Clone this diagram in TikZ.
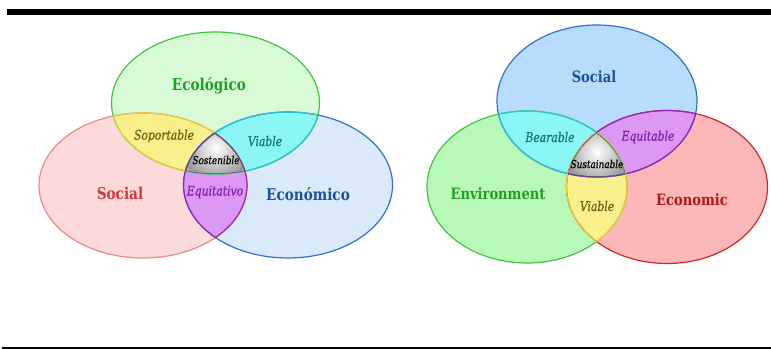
\documentclass[tikz,border=0pt]{standalone}
\usepackage{fontspec}
\usepackage{tikz}
\newfontfamily\vennbold{DejaVu Serif Condensed}[BoldFont={* Bold}, FakeStretch=0.93]
\newfontfamily\vennit{DejaVu Serif Condensed}[ItalicFont={* Italic}, FakeStretch=0.9, FakeBold=0.6]
\usetikzlibrary{calc}
% ellipses, left picture
\def\ecoL{(215.5,103) ellipse (104 and 71)}
\def\socL{(143,185.5) ellipse (104 and 72.5)}
\def\ecnL{(288,185) ellipse (104.5 and 73)}
% ellipses, right picture
\def\socR{(597,101) ellipse (100 and 76)}
\def\envR{(527,187) ellipse (100 and 76)}
\def\ecnR{(667,187) ellipse (100.5 and 76.5)}
\definecolor{gfillL}{HTML}{D8FAD6}
\definecolor{rfillL}{HTML}{FCDADA}
\definecolor{bfillL}{HTML}{DAEAFB}
\definecolor{gfillR}{HTML}{B8F8B8}
\definecolor{rfillR}{HTML}{FCB8B8}
\definecolor{bfillR}{HTML}{B8DCFC}
\definecolor{yfill}{HTML}{F8F08C}
\definecolor{cfill}{HTML}{8AF6F6}
\definecolor{pfill}{HTML}{DC98F4}
\definecolor{gline}{HTML}{3CC83C}
\definecolor{rlineL}{HTML}{E88888}
\definecolor{rlineR}{HTML}{D02828}
\definecolor{bline}{HTML}{2E72D0}
\definecolor{yline}{HTML}{E8CC38}
\definecolor{cline}{HTML}{28C4C8}
\definecolor{pline}{HTML}{9028B8}
\definecolor{kline}{HTML}{5A5A5A}
\definecolor{gtext}{HTML}{1FA01F}
\definecolor{rtextL}{HTML}{D03838}
\definecolor{rtextR}{HTML}{B01818}
\definecolor{btext}{HTML}{1F4FA0}
\definecolor{ytext}{HTML}{6E6010}
\definecolor{ctext}{HTML}{107878}
\definecolor{ptext}{HTML}{8020A8}
\tikzset{
  rim/.style={line width=0.9pt},
  bigL/.style={font=\vennbold\bfseries\fontsize{12.2}{14}\selectfont},
  bigR/.style={font=\vennbold\bfseries\fontsize{11.7}{14}\selectfont},
  small/.style={font=\vennit\itshape\fontsize{10}{12}\selectfont},
  tiny/.style={font=\vennit\itshape\fontsize{8.2}{10}\selectfont},
}
\begin{document}
\begin{tikzpicture}[x=0.75pt,y=-0.75pt]
	%%%%% START %%%%%
	\useasboundingbox (0,0) rectangle (771,349);
	\fill[black] (7,9) rectangle (771,15);
	
	%%%%% LEFT %%%%%
	\fill[gfillL] \ecoL;
	\fill[rfillL] \socL;
	\fill[bfillL] \ecnL;
	\begin{scope} \clip \ecoL; \fill[yfill] \socL; \fill[cfill] \ecnL; \end{scope}
	\begin{scope} \clip \socL; \fill[pfill] \ecnL; \end{scope}
	\begin{scope} \clip \ecoL; \clip \socL; \clip \ecnL;
		\shade[inner color=white, outer color=black!42] (216,148) circle (34);
	\end{scope}
	\draw[rim, gline] \ecoL;
	\draw[rim, rlineL] \socL;
	\draw[rim, bline] \ecnL;
	\begin{scope} \clip \ecoL; \draw[rim, yline] \socL; \draw[rim, cline] \ecnL; \end{scope}
	\begin{scope} \clip \socL; \draw[rim, yline] \ecoL; \draw[rim, pline] \ecnL; \end{scope}
	\begin{scope} \clip \ecnL; \draw[rim, cline] \ecoL; \draw[rim, pline] \socL; \end{scope}
	\begin{scope} \clip \ecoL; \clip \socL; \clip \ecnL;
		\draw[rim, kline] \ecoL; \draw[rim, kline] \socL; \draw[rim, kline] \ecnL;
	\end{scope}
	\node[bigL, gtext] (ecologico) at (209,86) {Ecológico};
	\node[bigL, rtextL] (socialL) at (120,193) {Social};
	\node[bigL, btext] (economico) at (308,194) {Económico};
	\node[small, ytext] (soportable) at (164,136) {Soportable};
	\node[small, ctext] (viableL) at (265,141) {Viable};
	\node[small, ptext] (equitativo) at (215,192) {Equitativo};
	\node[tiny, black] (sostenible) at (216,160) {Sostenible};
	
	%%%%% RIGHT %%%%%
	\fill[bfillR] \socR;
	\fill[gfillR] \envR;
	\fill[rfillR] \ecnR;
	\begin{scope} \clip \socR; \fill[cfill] \envR; \fill[pfill] \ecnR; \end{scope}
	\begin{scope} \clip \envR; \fill[yfill] \ecnR; \end{scope}
	\begin{scope} \clip \socR; \clip \envR; \clip \ecnR;
		\shade[inner color=white, outer color=black!42] (597,152) circle (34);
	\end{scope}
	\draw[rim, bline] \socR;
	\draw[rim, gline] \envR;
	\draw[rim, rlineR] \ecnR;
	\begin{scope} \clip \socR; \draw[rim, cline] \envR; \draw[rim, pline] \ecnR; \end{scope}
	\begin{scope} \clip \envR; \draw[rim, cline] \socR; \draw[rim, yline] \ecnR; \end{scope}
	\begin{scope} \clip \ecnR; \draw[rim, pline] \socR; \draw[rim, yline] \envR; \end{scope}
	\begin{scope} \clip \socR; \clip \envR; \clip \ecnR;
		\draw[rim, kline] \socR; \draw[rim, kline] \envR; \draw[rim, kline] \ecnR;
	\end{scope}
	\node[bigR, btext] (socialR) at (594,77) {Social};
	\node[bigR, gtext] (environment) at (498,194) {Environment};
	\node[bigR, rtextR] (economic) at (692,200) {Economic};
	\node[small, ctext] (bearable) at (550,137) {Bearable};
	\node[small, ptext] (equitable) at (648,137) {Equitable};
	\node[small, ytext] (viableR) at (597,206) {Viable};
	\node[tiny, black] (sustainable) at (597,164) {Sustainable};
	
	\fill[black] (2,346.5) rectangle (771,349);
	%%%%% END %%%%%
\end{tikzpicture}
\end{document}
